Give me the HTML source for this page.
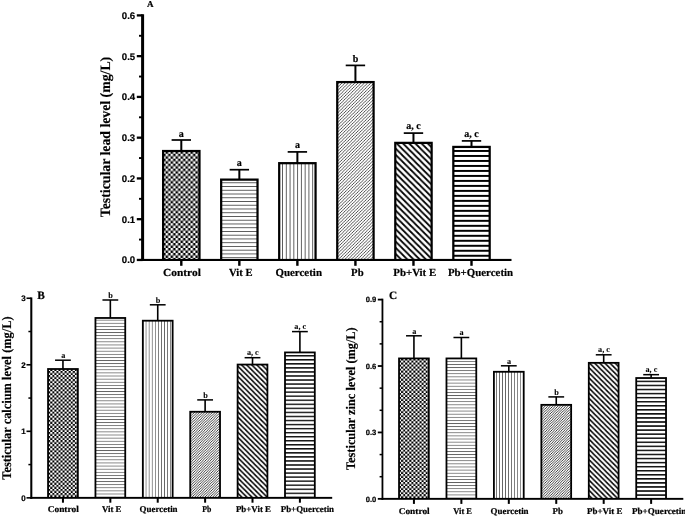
<!DOCTYPE html>
<html lang="en">
<head>
<meta charset="utf-8">
<title>Testicular lead, calcium and zinc levels</title>
<style>
html,body{margin:0;padding:0;background:#fff;}
body{width:685px;height:516px;overflow:hidden;}
svg{display:block;}
text{text-rendering:geometricPrecision;}
</style>
</head>
<body>
<svg width="685" height="516" viewBox="0 0 685 516">
<rect width="685" height="516" fill="#fff"/>
<defs>
<pattern id="achk" patternUnits="userSpaceOnUse" x="165.607" y="153.76" width="4.97" height="4.96"><rect width="4.97" height="4.96" fill="#000"/><rect x="0" y="0" width="2.485" height="2.48" fill="#fff"/><rect x="2.485" y="2.48" width="2.485" height="2.48" fill="#fff"/></pattern>
<pattern id="ahl" patternUnits="userSpaceOnUse" x="0" y="182.3" width="10" height="3.745"><rect width="10" height="3.745" fill="#fff"/><rect y="0" width="10" height="0.8" fill="#3a3a3a"/></pattern>
<pattern id="avl" patternUnits="userSpaceOnUse" x="282.05" y="0" width="3.77" height="10"><rect width="3.77" height="10" fill="#fff"/><rect x="0" width="0.8" height="10" fill="#3a3a3a"/></pattern>
<pattern id="afd" patternUnits="userSpaceOnUse" x="2.6" y="0" width="3.2" height="3.2"><rect width="3.2" height="3.2" fill="#fff"/><path d="M-3.2 3.2 L3.2 -3.2 M-3.2 6.4 L6.4 -3.2 M-3.2 9.6 L9.6 -3.2" stroke="#1a1a1a" stroke-width="0.75" fill="none"/></pattern>
<pattern id="atd" patternUnits="userSpaceOnUse" x="5.3" y="0" width="6.2" height="6.2"><rect width="6.2" height="6.2" fill="#fff"/><path d="M-12.4 -6.2 L6.2 12.4 M-6.2 -6.2 L12.4 12.4 M-6.2 -12.4 L12.4 6.2" stroke="#000" stroke-width="1.75" fill="none"/></pattern>
<pattern id="ath" patternUnits="userSpaceOnUse" x="0" y="149.995" width="10" height="4.99"><rect width="10" height="4.99" fill="#fff"/><rect y="0" width="10" height="1.95" fill="#000"/></pattern>
<pattern id="bchk" patternUnits="userSpaceOnUse" x="50.28" y="419.784" width="4.09" height="4.065"><rect width="4.09" height="4.065" fill="#000"/><rect x="0" y="0" width="2.045" height="2.033" fill="#fff"/><rect x="2.045" y="2.033" width="2.045" height="2.033" fill="#fff"/></pattern>
<pattern id="bhl" patternUnits="userSpaceOnUse" x="0" y="493.6" width="10" height="3.105"><rect width="10" height="3.105" fill="#fff"/><rect y="0" width="10" height="0.8" fill="#606060"/></pattern>
<pattern id="bvl" patternUnits="userSpaceOnUse" x="145.65" y="0" width="3.08" height="10"><rect width="3.08" height="10" fill="#fff"/><rect x="0" width="0.7" height="10" fill="#555"/></pattern>
<pattern id="bfd" patternUnits="userSpaceOnUse" x="0.38" y="0" width="2.57" height="2.57"><rect width="2.57" height="2.57" fill="#fff"/><path d="M-2.57 2.57 L2.57 -2.57 M-2.57 5.14 L5.14 -2.57 M-2.57 7.71 L7.71 -2.57" stroke="#111" stroke-width="0.8" fill="none"/></pattern>
<pattern id="btd" patternUnits="userSpaceOnUse" x="3.7" y="0" width="5.08" height="5.08"><rect width="5.08" height="5.08" fill="#fff"/><path d="M-10.16 -5.08 L5.08 10.16 M-5.08 -5.08 L10.16 10.16 M-5.08 -10.16 L10.16 5.08" stroke="#000" stroke-width="1.55" fill="none"/></pattern>
<pattern id="bth" patternUnits="userSpaceOnUse" x="0" y="355.025" width="10" height="4.046"><rect width="10" height="4.046" fill="#fff"/><rect y="0" width="10" height="1.45" fill="#111"/></pattern>
<pattern id="cchk" patternUnits="userSpaceOnUse" x="401.13" y="413.19" width="4.09" height="4.05"><rect width="4.09" height="4.05" fill="#000"/><rect x="0" y="0" width="2.045" height="2.025" fill="#fff"/><rect x="2.045" y="2.025" width="2.045" height="2.025" fill="#fff"/></pattern>
<pattern id="chl" patternUnits="userSpaceOnUse" x="0" y="494.54" width="10" height="3.107"><rect width="10" height="3.107" fill="#fff"/><rect y="0" width="10" height="0.8" fill="#606060"/></pattern>
<pattern id="cvl" patternUnits="userSpaceOnUse" x="496.02" y="0" width="3.04" height="10"><rect width="3.04" height="10" fill="#fff"/><rect x="0" width="0.7" height="10" fill="#555"/></pattern>
<pattern id="cfd" patternUnits="userSpaceOnUse" x="0.86" y="0" width="2.555" height="2.555"><rect width="2.555" height="2.555" fill="#fff"/><path d="M-2.555 2.555 L2.555 -2.555 M-2.555 5.11 L5.11 -2.555 M-2.555 7.665 L7.665 -2.555" stroke="#111" stroke-width="0.8" fill="none"/></pattern>
<pattern id="ctd" patternUnits="userSpaceOnUse" x="1.57" y="0" width="5.11" height="5.11"><rect width="5.11" height="5.11" fill="#fff"/><path d="M-10.22 -5.11 L5.11 10.22 M-5.11 -5.11 L10.22 10.22 M-5.11 -10.22 L10.22 5.11" stroke="#000" stroke-width="1.55" fill="none"/></pattern>
<pattern id="cth" patternUnits="userSpaceOnUse" x="0" y="380.615" width="10" height="4.06"><rect width="10" height="4.06" fill="#fff"/><rect y="0" width="10" height="1.55" fill="#111"/></pattern>
</defs>
<rect x="180.3" y="140" width="2" height="10.9" fill="#000"/>
<rect x="171.6" y="139.15" width="19.4" height="1.7" fill="#000"/>
<rect x="162" y="149.9" width="38.6" height="110.05" fill="#000"/>
<rect x="164.25" y="152.15" width="34.1" height="107.8" fill="url(#achk)"/>
<text x="181.3" y="136.5" font-family='"Liberation Serif", "Times New Roman", serif' font-size="10" font-weight="bold" text-anchor="middle" stroke="#000" stroke-width="0.2">a</text>
<rect x="180.1" y="259.95" width="2.4" height="5.85" fill="#000"/>
<rect x="238.34" y="169.7" width="2" height="9.8" fill="#000"/>
<rect x="229.64" y="168.85" width="19.4" height="1.7" fill="#000"/>
<rect x="220.04" y="178.5" width="38.6" height="81.45" fill="#000"/>
<rect x="222.29" y="180.75" width="34.1" height="79.2" fill="url(#ahl)"/>
<text x="239.34" y="166.2" font-family='"Liberation Serif", "Times New Roman", serif' font-size="10" font-weight="bold" text-anchor="middle" stroke="#000" stroke-width="0.2">a</text>
<rect x="238.14" y="259.95" width="2.4" height="5.85" fill="#000"/>
<rect x="296.38" y="151.9" width="2" height="11.15" fill="#000"/>
<rect x="287.68" y="151.05" width="19.4" height="1.7" fill="#000"/>
<rect x="278.08" y="162.05" width="38.6" height="97.9" fill="#000"/>
<rect x="280.33" y="164.3" width="34.1" height="95.65" fill="url(#avl)"/>
<text x="297.38" y="148.4" font-family='"Liberation Serif", "Times New Roman", serif' font-size="10" font-weight="bold" text-anchor="middle" stroke="#000" stroke-width="0.2">a</text>
<rect x="296.18" y="259.95" width="2.4" height="5.85" fill="#000"/>
<rect x="354.42" y="65.4" width="2" height="16.55" fill="#000"/>
<rect x="345.72" y="64.55" width="19.4" height="1.7" fill="#000"/>
<rect x="336.12" y="80.95" width="38.6" height="179" fill="#000"/>
<rect x="338.37" y="83.2" width="34.1" height="176.75" fill="url(#afd)"/>
<text x="355.42" y="61.9" font-family='"Liberation Serif", "Times New Roman", serif' font-size="10" font-weight="bold" text-anchor="middle" stroke="#000" stroke-width="0.2">b</text>
<rect x="354.22" y="259.95" width="2.4" height="5.85" fill="#000"/>
<rect x="412.46" y="133.1" width="2" height="9.65" fill="#000"/>
<rect x="403.76" y="132.25" width="19.4" height="1.7" fill="#000"/>
<rect x="394.16" y="141.75" width="38.6" height="118.2" fill="#000"/>
<rect x="396.41" y="144" width="34.1" height="115.95" fill="url(#atd)"/>
<text x="413.46" y="129" font-family='"Liberation Serif", "Times New Roman", serif' font-size="10" font-weight="bold" text-anchor="middle" stroke="#000" stroke-width="0.2">a, c</text>
<rect x="412.26" y="259.95" width="2.4" height="5.85" fill="#000"/>
<rect x="470.5" y="140.9" width="2" height="5.9" fill="#000"/>
<rect x="461.8" y="140.05" width="19.4" height="1.7" fill="#000"/>
<rect x="452.2" y="145.8" width="38.6" height="114.15" fill="#000"/>
<rect x="454.45" y="148.05" width="34.1" height="111.9" fill="url(#ath)"/>
<text x="471.5" y="136.8" font-family='"Liberation Serif", "Times New Roman", serif' font-size="10" font-weight="bold" text-anchor="middle" stroke="#000" stroke-width="0.2">a, c</text>
<rect x="470.3" y="259.95" width="2.4" height="5.85" fill="#000"/>
<text x="163" y="276.3" font-family='"Liberation Serif", "Times New Roman", serif' font-size="10.8" font-weight="bold" text-anchor="start" stroke="#000" stroke-width="0.2" textLength="37.8" lengthAdjust="spacingAndGlyphs">Control</text>
<text x="229.1" y="276.3" font-family='"Liberation Serif", "Times New Roman", serif' font-size="10.8" font-weight="bold" text-anchor="start" stroke="#000" stroke-width="0.2" textLength="23.5" lengthAdjust="spacingAndGlyphs">Vit E</text>
<text x="275.4" y="276.3" font-family='"Liberation Serif", "Times New Roman", serif' font-size="10.8" font-weight="bold" text-anchor="start" stroke="#000" stroke-width="0.2" textLength="46.6" lengthAdjust="spacingAndGlyphs">Quercetin</text>
<text x="351.1" y="276.3" font-family='"Liberation Serif", "Times New Roman", serif' font-size="10.8" font-weight="bold" text-anchor="start" stroke="#000" stroke-width="0.2" textLength="12.5" lengthAdjust="spacingAndGlyphs">Pb</text>
<text x="393.3" y="276.3" font-family='"Liberation Serif", "Times New Roman", serif' font-size="10.8" font-weight="bold" text-anchor="start" stroke="#000" stroke-width="0.2" textLength="42.9" lengthAdjust="spacingAndGlyphs">Pb+Vit E</text>
<text x="447.9" y="276.3" font-family='"Liberation Serif", "Times New Roman", serif' font-size="10.8" font-weight="bold" text-anchor="start" stroke="#000" stroke-width="0.2" textLength="65.2" lengthAdjust="spacingAndGlyphs">Pb+Quercetin</text>
<rect x="141.1" y="14.25" width="3" height="246.75" fill="#000"/>
<rect x="141.1" y="258.9" width="370.4" height="2.1" fill="#000"/>
<rect x="136.8" y="258.8" width="5.8" height="2.3" fill="#000"/>
<text x="135.2" y="263.35" font-family='"Liberation Sans", Arial, sans-serif' font-size="9.6" font-weight="bold" text-anchor="end" stroke="#000" stroke-width="0.2">0.0</text>
<rect x="139" y="238.621" width="3.6" height="1.9" fill="#000"/>
<rect x="136.8" y="218.042" width="5.8" height="2.3" fill="#000"/>
<text x="135.2" y="222.592" font-family='"Liberation Sans", Arial, sans-serif' font-size="9.6" font-weight="bold" text-anchor="end" stroke="#000" stroke-width="0.2">0.1</text>
<rect x="139" y="197.863" width="3.6" height="1.9" fill="#000"/>
<rect x="136.8" y="177.283" width="5.8" height="2.3" fill="#000"/>
<text x="135.2" y="181.833" font-family='"Liberation Sans", Arial, sans-serif' font-size="9.6" font-weight="bold" text-anchor="end" stroke="#000" stroke-width="0.2">0.2</text>
<rect x="139" y="157.104" width="3.6" height="1.9" fill="#000"/>
<rect x="136.8" y="136.525" width="5.8" height="2.3" fill="#000"/>
<text x="135.2" y="141.075" font-family='"Liberation Sans", Arial, sans-serif' font-size="9.6" font-weight="bold" text-anchor="end" stroke="#000" stroke-width="0.2">0.3</text>
<rect x="139" y="116.346" width="3.6" height="1.9" fill="#000"/>
<rect x="136.8" y="95.767" width="5.8" height="2.3" fill="#000"/>
<text x="135.2" y="100.317" font-family='"Liberation Sans", Arial, sans-serif' font-size="9.6" font-weight="bold" text-anchor="end" stroke="#000" stroke-width="0.2">0.4</text>
<rect x="139" y="75.587" width="3.6" height="1.9" fill="#000"/>
<rect x="136.8" y="55.008" width="5.8" height="2.3" fill="#000"/>
<text x="135.2" y="59.558" font-family='"Liberation Sans", Arial, sans-serif' font-size="9.6" font-weight="bold" text-anchor="end" stroke="#000" stroke-width="0.2">0.5</text>
<rect x="139" y="34.829" width="3.6" height="1.9" fill="#000"/>
<rect x="136.8" y="14.25" width="5.8" height="2.3" fill="#000"/>
<text x="135.2" y="18.8" font-family='"Liberation Sans", Arial, sans-serif' font-size="9.6" font-weight="bold" text-anchor="end" stroke="#000" stroke-width="0.2">0.6</text>
<text transform="translate(109.5 217.2) rotate(-90)" font-family='"Liberation Serif", "Times New Roman", serif' font-size="14.3" font-weight="bold" text-anchor="start" textLength="160.4" lengthAdjust="spacingAndGlyphs" stroke="#000" stroke-width="0.15">Testicular lead level (mg/L)</text>
<text x="146.9" y="7" font-family='"Liberation Serif", "Times New Roman", serif' font-size="9" font-weight="bold" text-anchor="start" stroke="#000" stroke-width="0.2">A</text>
<rect x="62.15" y="360.2" width="1.6" height="8.9" fill="#000"/>
<rect x="55.05" y="359.45" width="15.8" height="1.5" fill="#000"/>
<rect x="47.15" y="368.1" width="31.6" height="129.75" fill="#000"/>
<rect x="48.95" y="369.9" width="28" height="127.95" fill="url(#bchk)"/>
<text x="63.25" y="358" font-family='"Liberation Serif", "Times New Roman", serif' font-size="8.2" font-weight="bold" text-anchor="middle" stroke="#000" stroke-width="0.08">a</text>
<rect x="61.95" y="497.85" width="2" height="4.85" fill="#000"/>
<rect x="109.54" y="300" width="1.6" height="18.07" fill="#000"/>
<rect x="102.44" y="299.25" width="15.8" height="1.5" fill="#000"/>
<rect x="94.54" y="317.07" width="31.6" height="180.78" fill="#000"/>
<rect x="96.34" y="318.87" width="28" height="178.98" fill="url(#bhl)"/>
<text x="110.64" y="297.8" font-family='"Liberation Serif", "Times New Roman", serif' font-size="8.2" font-weight="bold" text-anchor="middle" stroke="#000" stroke-width="0.08">b</text>
<rect x="109.34" y="497.85" width="2" height="4.85" fill="#000"/>
<rect x="156.93" y="304.8" width="1.6" height="16" fill="#000"/>
<rect x="149.83" y="304.05" width="15.8" height="1.5" fill="#000"/>
<rect x="141.93" y="319.8" width="31.6" height="178.05" fill="#000"/>
<rect x="143.73" y="321.6" width="28" height="176.25" fill="url(#bvl)"/>
<text x="158.03" y="302.6" font-family='"Liberation Serif", "Times New Roman", serif' font-size="8.2" font-weight="bold" text-anchor="middle" stroke="#000" stroke-width="0.08">b</text>
<rect x="156.73" y="497.85" width="2" height="4.85" fill="#000"/>
<rect x="204.32" y="399.9" width="1.6" height="11.96" fill="#000"/>
<rect x="197.22" y="399.15" width="15.8" height="1.5" fill="#000"/>
<rect x="189.32" y="410.86" width="31.6" height="86.99" fill="#000"/>
<rect x="191.12" y="412.66" width="28" height="85.19" fill="url(#bfd)"/>
<text x="205.42" y="397.7" font-family='"Liberation Serif", "Times New Roman", serif' font-size="8.2" font-weight="bold" text-anchor="middle" stroke="#000" stroke-width="0.08">b</text>
<rect x="204.12" y="497.85" width="2" height="4.85" fill="#000"/>
<rect x="251.71" y="357.7" width="1.6" height="6.96" fill="#000"/>
<rect x="244.61" y="356.95" width="15.8" height="1.5" fill="#000"/>
<rect x="236.71" y="363.66" width="31.6" height="134.19" fill="#000"/>
<rect x="238.51" y="365.46" width="28" height="132.39" fill="url(#btd)"/>
<text x="252.81" y="354.6" font-family='"Liberation Serif", "Times New Roman", serif' font-size="8.2" font-weight="bold" text-anchor="middle" stroke="#000" stroke-width="0.08">a, c</text>
<rect x="251.51" y="497.85" width="2" height="4.85" fill="#000"/>
<rect x="299.1" y="331.6" width="1.6" height="20.93" fill="#000"/>
<rect x="292" y="330.85" width="15.8" height="1.5" fill="#000"/>
<rect x="284.1" y="351.53" width="31.6" height="146.32" fill="#000"/>
<rect x="285.9" y="353.33" width="28" height="144.52" fill="url(#bth)"/>
<text x="300.2" y="328.5" font-family='"Liberation Serif", "Times New Roman", serif' font-size="8.2" font-weight="bold" text-anchor="middle" stroke="#000" stroke-width="0.08">a, c</text>
<rect x="298.9" y="497.85" width="2" height="4.85" fill="#000"/>
<text x="47.7" y="512.1" font-family='"Liberation Serif", "Times New Roman", serif' font-size="8.9" font-weight="bold" text-anchor="start" stroke="#000" stroke-width="0.2" textLength="31.1" lengthAdjust="spacingAndGlyphs">Control</text>
<text x="102" y="512.1" font-family='"Liberation Serif", "Times New Roman", serif' font-size="8.9" font-weight="bold" text-anchor="start" stroke="#000" stroke-width="0.2" textLength="19.5" lengthAdjust="spacingAndGlyphs">Vit E</text>
<text x="139.5" y="512.1" font-family='"Liberation Serif", "Times New Roman", serif' font-size="8.9" font-weight="bold" text-anchor="start" stroke="#000" stroke-width="0.2" textLength="38.1" lengthAdjust="spacingAndGlyphs">Quercetin</text>
<text x="202.2" y="512.1" font-family='"Liberation Serif", "Times New Roman", serif' font-size="8.9" font-weight="bold" text-anchor="start" stroke="#000" stroke-width="0.2" textLength="9.1" lengthAdjust="spacingAndGlyphs">Pb</text>
<text x="235.9" y="512.1" font-family='"Liberation Serif", "Times New Roman", serif' font-size="8.9" font-weight="bold" text-anchor="start" stroke="#000" stroke-width="0.2" textLength="35.1" lengthAdjust="spacingAndGlyphs">Pb+Vit E</text>
<text x="280.7" y="512.1" font-family='"Liberation Serif", "Times New Roman", serif' font-size="8.9" font-weight="bold" text-anchor="start" stroke="#000" stroke-width="0.2" textLength="53.4" lengthAdjust="spacingAndGlyphs">Pb+Quercetin</text>
<rect x="30.275" y="297.45" width="2.05" height="201.35" fill="#000"/>
<rect x="30.275" y="496.9" width="301.925" height="1.9" fill="#000"/>
<rect x="26.5" y="497.05" width="4.8" height="1.6" fill="#000"/>
<text x="25.6" y="500.65" font-family='"Liberation Sans", Arial, sans-serif' font-size="8" font-weight="bold" text-anchor="end" stroke="#000" stroke-width="0.2">0</text>
<rect x="28.4" y="463.833" width="2.9" height="1.5" fill="#000"/>
<rect x="26.5" y="430.517" width="4.8" height="1.6" fill="#000"/>
<text x="25.6" y="434.117" font-family='"Liberation Sans", Arial, sans-serif' font-size="8" font-weight="bold" text-anchor="end" stroke="#000" stroke-width="0.2">1</text>
<rect x="28.4" y="397.3" width="2.9" height="1.5" fill="#000"/>
<rect x="26.5" y="363.983" width="4.8" height="1.6" fill="#000"/>
<text x="25.6" y="367.583" font-family='"Liberation Sans", Arial, sans-serif' font-size="8" font-weight="bold" text-anchor="end" stroke="#000" stroke-width="0.2">2</text>
<rect x="28.4" y="330.767" width="2.9" height="1.5" fill="#000"/>
<rect x="26.5" y="297.45" width="4.8" height="1.6" fill="#000"/>
<text x="25.6" y="301.05" font-family='"Liberation Sans", Arial, sans-serif' font-size="8" font-weight="bold" text-anchor="end" stroke="#000" stroke-width="0.2">3</text>
<text transform="translate(10.6 479.7) rotate(-90)" font-family='"Liberation Serif", "Times New Roman", serif' font-size="13.2" font-weight="bold" text-anchor="start" textLength="163.3" lengthAdjust="spacingAndGlyphs" stroke="#000" stroke-width="0.15">Testicular calcium level (mg/L)</text>
<text x="37.2" y="298.8" font-family='"Liberation Serif", "Times New Roman", serif' font-size="11.3" font-weight="bold" text-anchor="start" stroke="#000" stroke-width="0.2">B</text>
<rect x="413.13" y="335.8" width="1.6" height="22.73" fill="#000"/>
<rect x="406.03" y="335.05" width="15.8" height="1.5" fill="#000"/>
<rect x="398.13" y="357.53" width="31.6" height="141.32" fill="#000"/>
<rect x="399.93" y="359.33" width="28" height="139.52" fill="url(#cchk)"/>
<text x="414.23" y="333.6" font-family='"Liberation Serif", "Times New Roman", serif' font-size="8.2" font-weight="bold" text-anchor="middle" stroke="#000" stroke-width="0.08">a</text>
<rect x="412.93" y="498.85" width="2" height="5.05" fill="#000"/>
<rect x="460.57" y="337.5" width="1.6" height="21.03" fill="#000"/>
<rect x="453.47" y="336.75" width="15.8" height="1.5" fill="#000"/>
<rect x="445.57" y="357.53" width="31.6" height="141.32" fill="#000"/>
<rect x="447.37" y="359.33" width="28" height="139.52" fill="url(#chl)"/>
<text x="461.67" y="335.3" font-family='"Liberation Serif", "Times New Roman", serif' font-size="8.2" font-weight="bold" text-anchor="middle" stroke="#000" stroke-width="0.08">a</text>
<rect x="460.37" y="498.85" width="2" height="5.05" fill="#000"/>
<rect x="508.01" y="365.8" width="1.6" height="6.08" fill="#000"/>
<rect x="500.91" y="365.05" width="15.8" height="1.5" fill="#000"/>
<rect x="493.01" y="370.88" width="31.6" height="127.97" fill="#000"/>
<rect x="494.81" y="372.68" width="28" height="126.17" fill="url(#cvl)"/>
<text x="509.11" y="363.6" font-family='"Liberation Serif", "Times New Roman", serif' font-size="8.2" font-weight="bold" text-anchor="middle" stroke="#000" stroke-width="0.08">a</text>
<rect x="507.81" y="498.85" width="2" height="5.05" fill="#000"/>
<rect x="555.45" y="396.9" width="1.6" height="8.04" fill="#000"/>
<rect x="548.35" y="396.15" width="15.8" height="1.5" fill="#000"/>
<rect x="540.45" y="403.94" width="31.6" height="94.91" fill="#000"/>
<rect x="542.25" y="405.74" width="28" height="93.11" fill="url(#cfd)"/>
<text x="556.55" y="394.7" font-family='"Liberation Serif", "Times New Roman", serif' font-size="8.2" font-weight="bold" text-anchor="middle" stroke="#000" stroke-width="0.08">b</text>
<rect x="555.25" y="498.85" width="2" height="5.05" fill="#000"/>
<rect x="602.89" y="354.8" width="1.6" height="8.14" fill="#000"/>
<rect x="595.79" y="354.05" width="15.8" height="1.5" fill="#000"/>
<rect x="587.89" y="361.94" width="31.6" height="136.91" fill="#000"/>
<rect x="589.69" y="363.74" width="28" height="135.11" fill="url(#ctd)"/>
<text x="603.99" y="351.7" font-family='"Liberation Serif", "Times New Roman", serif' font-size="8.2" font-weight="bold" text-anchor="middle" stroke="#000" stroke-width="0.08">a, c</text>
<rect x="602.69" y="498.85" width="2" height="5.05" fill="#000"/>
<rect x="650.33" y="374.67" width="1.6" height="3.45" fill="#000"/>
<rect x="643.23" y="373.92" width="15.8" height="1.5" fill="#000"/>
<rect x="635.33" y="377.12" width="31.6" height="121.73" fill="#000"/>
<rect x="637.13" y="378.92" width="28" height="119.93" fill="url(#cth)"/>
<text x="651.43" y="371.57" font-family='"Liberation Serif", "Times New Roman", serif' font-size="8.2" font-weight="bold" text-anchor="middle" stroke="#000" stroke-width="0.08">a, c</text>
<rect x="650.13" y="498.85" width="2" height="5.05" fill="#000"/>
<text x="398.7" y="513.7" font-family='"Liberation Serif", "Times New Roman", serif' font-size="8.9" font-weight="bold" text-anchor="start" stroke="#000" stroke-width="0.2" textLength="31" lengthAdjust="spacingAndGlyphs">Control</text>
<text x="453.3" y="513.7" font-family='"Liberation Serif", "Times New Roman", serif' font-size="8.9" font-weight="bold" text-anchor="start" stroke="#000" stroke-width="0.2" textLength="18.7" lengthAdjust="spacingAndGlyphs">Vit E</text>
<text x="490.5" y="513.7" font-family='"Liberation Serif", "Times New Roman", serif' font-size="8.9" font-weight="bold" text-anchor="start" stroke="#000" stroke-width="0.2" textLength="38.1" lengthAdjust="spacingAndGlyphs">Quercetin</text>
<text x="552.5" y="513.7" font-family='"Liberation Serif", "Times New Roman", serif' font-size="8.9" font-weight="bold" text-anchor="start" stroke="#000" stroke-width="0.2" textLength="10.4" lengthAdjust="spacingAndGlyphs">Pb</text>
<text x="587" y="513.7" font-family='"Liberation Serif", "Times New Roman", serif' font-size="8.9" font-weight="bold" text-anchor="start" stroke="#000" stroke-width="0.2" textLength="35.4" lengthAdjust="spacingAndGlyphs">Pb+Vit E</text>
<text x="632" y="513.7" font-family='"Liberation Serif", "Times New Roman", serif' font-size="8.9" font-weight="bold" text-anchor="start" stroke="#000" stroke-width="0.2" textLength="54.4" lengthAdjust="spacingAndGlyphs">Pb+Quercetin</text>
<rect x="381.55" y="298.7" width="1.8" height="201.1" fill="#000"/>
<rect x="381.55" y="497.9" width="301.75" height="1.9" fill="#000"/>
<rect x="377.8" y="497.95" width="4.65" height="1.8" fill="#000"/>
<text x="376.3" y="501.55" font-family='"Liberation Sans", Arial, sans-serif' font-size="7.6" font-weight="bold" text-anchor="end" stroke="#000" stroke-width="0.2">0.0</text>
<rect x="379.6" y="475.961" width="2.85" height="1.5" fill="#000"/>
<rect x="379.6" y="453.822" width="2.85" height="1.5" fill="#000"/>
<rect x="377.8" y="431.533" width="4.65" height="1.8" fill="#000"/>
<text x="376.3" y="435.133" font-family='"Liberation Sans", Arial, sans-serif' font-size="7.6" font-weight="bold" text-anchor="end" stroke="#000" stroke-width="0.2">0.3</text>
<rect x="379.6" y="409.544" width="2.85" height="1.5" fill="#000"/>
<rect x="379.6" y="387.406" width="2.85" height="1.5" fill="#000"/>
<rect x="377.8" y="365.117" width="4.65" height="1.8" fill="#000"/>
<text x="376.3" y="368.717" font-family='"Liberation Sans", Arial, sans-serif' font-size="7.6" font-weight="bold" text-anchor="end" stroke="#000" stroke-width="0.2">0.6</text>
<rect x="379.6" y="343.128" width="2.85" height="1.5" fill="#000"/>
<rect x="379.6" y="320.989" width="2.85" height="1.5" fill="#000"/>
<rect x="377.8" y="298.7" width="4.65" height="1.8" fill="#000"/>
<text x="376.3" y="302.3" font-family='"Liberation Sans", Arial, sans-serif' font-size="7.6" font-weight="bold" text-anchor="end" stroke="#000" stroke-width="0.2">0.9</text>
<text transform="translate(355.2 470) rotate(-90)" font-family='"Liberation Serif", "Times New Roman", serif' font-size="13.1" font-weight="bold" text-anchor="start" textLength="142.7" lengthAdjust="spacingAndGlyphs" stroke="#000" stroke-width="0.15">Testicular zinc level (mg/L)</text>
<text x="389.1" y="299" font-family='"Liberation Serif", "Times New Roman", serif' font-size="11.3" font-weight="bold" text-anchor="start" stroke="#000" stroke-width="0.2">C</text>
</svg>
</body>
</html>
